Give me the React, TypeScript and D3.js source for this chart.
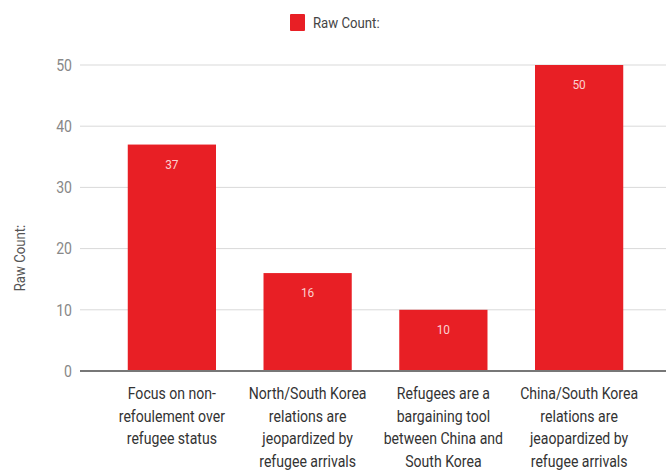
import React from "react";
import * as d3 from "d3";

const categories: string[][] = [
  ["Focus on non-", "refoulement over", "refugee status"],
  ["North/South Korea", "relations are", "jeopardized by", "refugee arrivals"],
  ["Refugees are a", "bargaining tool", "between China and", "South Korea"],
  ["China/South Korea", "relations are", "jeaopardized by", "refugee arrivals"],
];
const rawCounts: number[] = [37, 16, 10, 50];
const yTicks: number[] = [0, 10, 20, 30, 40, 50];
const seriesName = "Raw Count:";

const W = 666;
const H = 472;
const FONT = "Roboto, 'Noto Sans', sans-serif";
const BAR = "#e81f25";
// narrow the glyphs a little for a condensed look
const SX = 0.88;

type CTextProps = {
  x: number;
  y: number;
  size: number;
  fill: string;
  anchor?: "start" | "middle" | "end";
  rotate?: number;
  children: React.ReactNode;
};

function CText({ x, y, size, fill, anchor = "start", rotate = 0, children }: CTextProps) {
  return (
    <g transform={`translate(${x},${y}) rotate(${rotate}) scale(${SX},1)`}>
      <text x={0} y={0} fontSize={size} fill={fill} textAnchor={anchor}>
        {children}
      </text>
    </g>
  );
}

export default function App() {
  const x = d3
    .scaleBand<number>()
    .domain(d3.range(categories.length))
    .range([104, 647])
    .paddingInner(0.35)
    .paddingOuter(0.175);
  const y = d3.scaleLinear().domain([0, 50]).range([371, 65]);

  return (
    <svg
      width={W}
      height={H}
      style={{ position: "absolute", left: 0, top: 0, background: "#fff" }}
      fontFamily={FONT}
    >
      {/* legend */}
      <rect x={290} y={14} width={15} height={17} fill={BAR} rx={1} />
      <CText x={313} y={28} size={15} fill="#444">
        {seriesName}
      </CText>

      {/* grid + y ticks */}
      {yTicks.map((t) => (
        <g key={t}>
          {t !== 0 && (
            <line x1={80} x2={W} y1={y(t)} y2={y(t)} stroke="#d9d9d9" strokeWidth={1} />
          )}
          <CText x={72} y={y(t) + 5.8} size={16} fill="#888" anchor="end">
            {t}
          </CText>
        </g>
      ))}

      {/* y axis title */}
      <CText x={25} y={258} size={15} fill="#555" anchor="middle" rotate={-90}>
        {seriesName}
      </CText>

      {/* bars */}
      {rawCounts.map((v, i) => (
        <g key={i}>
          <rect
            x={x(i)!}
            y={y(v)}
            width={x.bandwidth()}
            height={y(0) - y(v)}
            fill={BAR}
          />
          <CText
            x={x(i)! + x.bandwidth() / 2}
            y={y(v) + 24}
            size={13.5}
            fill="#fbd0d0"
            anchor="middle"
          >
            {v}
          </CText>
        </g>
      ))}

      {/* baseline */}
      <line x1={80} x2={W} y1={y(0)} y2={y(0)} stroke="#777" strokeWidth={2} />

      {/* category labels */}
      {categories.map((lines, i) =>
        lines.map((l, j) => (
          <CText
            key={`${i}-${j}`}
            x={x(i)! + x.bandwidth() / 2}
            y={399 + j * 22.7}
            size={16}
            fill="#333"
            anchor="middle"
          >
            {l}
          </CText>
        ))
      )}
    </svg>
  );
}
